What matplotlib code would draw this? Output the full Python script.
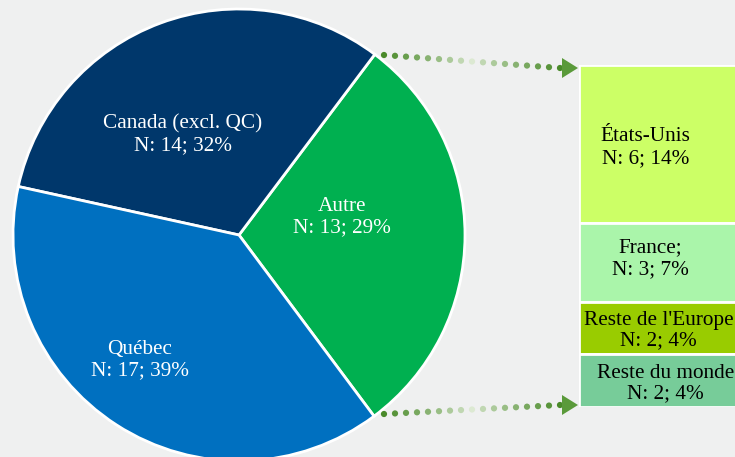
import numpy as np
import matplotlib
matplotlib.use('Agg')
import matplotlib.pyplot as plt
from matplotlib.colors import to_rgb
from matplotlib.patches import Polygon

# --- data ---------------------------------------------------------------
pie_labels = ['Autre', 'Canada (excl. QC)', 'Québec']
pie_counts = [13, 14, 17]
pie_pcts = [29, 32, 39]
pie_colors = ['#00B050', '#00376B', '#0070C0']

bar_labels = ['États-Unis', 'France;', "Reste de l'Europe", 'Reste du monde']
bar_counts = [6, 3, 2, 2]
bar_pcts = [14, 7, 4, 4]
bar_colors = ['#CCFF66', '#AAF5AA', '#99CC00', '#77CC99']

BG = '#EFF0F0'
W, H = 735, 457
plt.rcParams['font.family'] = ['Liberation Serif', 'DejaVu Serif']

fig = plt.figure(figsize=(W / 100, H / 100), dpi=100)
fig.patch.set_facecolor(BG)

# main axes in pixel coordinates (y measured up from bottom)
ax = fig.add_axes([0, 0, 1, 1])
ax.set_facecolor(BG)

cx, cy, r = 239, H - 235, 226
ax.pie(pie_counts, colors=pie_colors, center=(cx, cy), radius=r,
       startangle=-53.3, counterclock=True, frame=True,
       wedgeprops=dict(edgecolor='white', linewidth=2))
ax.set_xlim(0, W)
ax.set_ylim(0, H)
ax.set_aspect('equal')
ax.axis('off')

pie_text_pos = [(342, 217), (183, 135), (140, 360)]
for (tx, ty), lab, n, p in zip(pie_text_pos, pie_labels, pie_counts, pie_pcts):
    ax.text(tx, H - ty, f'{lab}\nN: {n}; {p}%', ha='center', va='center',
            color='white', fontsize=15.3, linespacing=1.2)

# ── dotted gradient arrows ───────────────────────────────────────────────
dark = np.array(to_rgb('#4A8A2A'))
light = np.array(to_rgb('#DCE9D2'))

def dotted_arrow(x0, y0, x1, y1):
    n = 17
    t = np.linspace(0, 1, n)
    xs = x0 + (x1 - 18 - x0) * t
    ys = y0 + (y1 - y0) * t
    w = np.abs(t - 0.5) * 2
    cols = [tuple(light + (dark - light) * (wi ** 0.8)) for wi in w]
    ax.scatter(xs, H - ys, s=20, c=cols, edgecolors='none', zorder=5)
    ax.add_patch(Polygon([(x1, H - y1), (x1 - 16, H - y1 + 10),
                          (x1 - 16, H - y1 - 10)], closed=True,
                         facecolor='#5A9A3A', edgecolor='none', zorder=5))

dotted_arrow(384, 55, 578, 68)
dotted_arrow(384, 414, 578, 405)

# ── stacked bar ────────────────────────────────────────────────────────
bx0, bx1, by0, by1 = 579, 745, 65, 407
bax = fig.add_axes([bx0 / W, (H - by1) / H, (bx1 - bx0) / W, (by1 - by0) / H])
bax.set_xlim(0, 1)
bax.set_ylim(0, sum(bar_counts))
bax.axis('off')
bax.patch.set_alpha(0)

bottom = sum(bar_counts)
text_x = [0.40, 0.43, 0.48, 0.52]
text_dy = [-0.15, 0.15, -0.1, -0.1]
for lab, n, p, c, tx, dy in zip(bar_labels, bar_counts, bar_pcts, bar_colors,
                                text_x, text_dy):
    bottom -= n
    bax.bar(0, n, bottom=bottom, width=1, align='edge', color=c,
            edgecolor='white', linewidth=2)
    bax.text(tx, bottom + n / 2 + dy, f'{lab}\nN: {n}; {p}%',
             ha='center', va='center', color='black', fontsize=15.3,
             linespacing=1.2 if n > 2 else 1.1)

fig.savefig('out.png', dpi=100, facecolor=BG)
